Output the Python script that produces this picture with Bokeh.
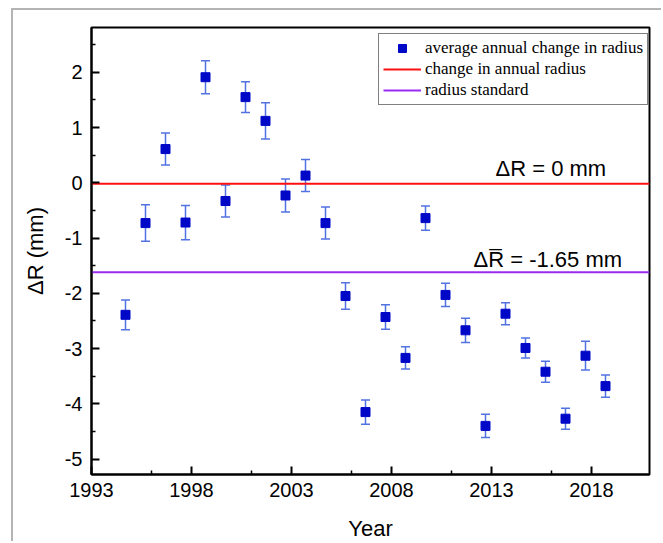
from bokeh.plotting import figure
from bokeh.models import ColumnDataSource, Whisker, TeeHead, FixedTicker, Label, Range1d, Legend, LegendItem
from bokeh.embed import file_html
from bokeh.resources import INLINE

# ---- data ----
years = [1994.7, 1995.7, 1996.7, 1997.7, 1998.7, 1999.7, 2000.7, 2001.7, 2002.7,
         2003.7, 2004.7, 2005.7, 2006.7, 2007.7, 2008.7, 2009.7, 2010.7, 2011.7,
         2012.7, 2013.7, 2014.7, 2015.7, 2016.7, 2017.7, 2018.7]
delta_r = [-2.39, -0.73, 0.61, -0.72, 1.91, -0.33, 1.55, 1.12, -0.23, 0.13, -0.73,
           -2.05, -4.15, -2.43, -3.17, -0.64, -2.03, -2.67, -4.40, -2.37, -2.99,
           -3.42, -4.27, -3.13, -3.68]
errors = [0.27, 0.33, 0.29, 0.31, 0.30, 0.29, 0.28, 0.33, 0.30, 0.29, 0.29, 0.24,
          0.22, 0.22, 0.20, 0.22, 0.21, 0.22, 0.21, 0.20, 0.18, 0.19, 0.19, 0.26, 0.20]
zero_line = -0.02
mean_line = -1.62
x_ticks = [1993, 1998, 2003, 2008, 2013, 2018]
x_minor = [1996, 2001, 2006, 2011, 2016]
y_ticks = [-5, -4, -3, -2, -1, 0, 1, 2]
y_tick_labels = ["-5", "-4", "-3", "-2", "-1", "0", "1", "2"]
y_minor = [-4.5, -3.5, -2.5, -1.5, -0.5, 0.5, 1.5, 2.5]
x_lo, x_hi = 1993, 2020.9
y_lo, y_hi = -5.28, 2.81

src = ColumnDataSource(dict(
    x=years, y=delta_r,
    upper=[v + e for v, e in zip(delta_r, errors)],
    lower=[v - e for v, e in zip(delta_r, errors)],
))

p = figure(width=650, height=533, x_range=Range1d(x_lo, x_hi), y_range=Range1d(y_lo, y_hi),
           output_backend="svg", toolbar_location=None,
           min_border_left=78, min_border_right=14, min_border_top=17, min_border_bottom=66)
p.margin = (8, 0, 0, 11)
p.styles = {"border-left": "2px solid #b4b4b4", "border-top": "2px solid #b4b4b4"}
p.background_fill_color = "white"
p.border_fill_color = "white"
p.outline_line_color = "black"
p.outline_line_width = 2
p.xgrid.visible = False
p.ygrid.visible = False

err_color = "#5272e2"
wh = Whisker(base="x", upper="upper", lower="lower", source=src,
             line_color=err_color, line_width=1.5,
             upper_head=TeeHead(size=9, line_color=err_color, line_width=1.5),
             lower_head=TeeHead(size=9, line_color=err_color, line_width=1.5))
p.add_layout(wh)

r_zero = p.line([x_lo, x_hi], [zero_line, zero_line], line_color="#ff1010", line_width=2)
r_mean = p.line([x_lo, x_hi], [mean_line, mean_line], line_color="#9a2cf0", line_width=2)
r_pts = p.scatter("x", "y", source=src, marker="square", size=9,
                  fill_color="#0008c8", line_color="#0008c8")

legend = Legend(items=[
    LegendItem(label="average annual change in radius", renderers=[r_pts]),
    LegendItem(label="change in annual radius", renderers=[r_zero]),
    LegendItem(label="radius standard", renderers=[r_mean]),
], location=(287, 369))
legend.label_text_font = "Liberation Serif"
legend.label_text_font_size = "17px"
legend.label_text_color = "black"
legend.label_height = 20
legend.glyph_height = 20
legend.glyph_width = 38
legend.spacing = 1
legend.padding = 4
legend.margin = 0
legend.label_standoff = 4
legend.border_line_color = "black"
legend.border_line_width = 1
legend.background_fill_color = "white"
legend.background_fill_alpha = 1
p.add_layout(legend, "center")

for ax in (p.xaxis[0], p.yaxis[0]):
    ax.axis_line_width = 2
    ax.axis_line_color = "black"
    ax.major_tick_in = 8
    ax.major_tick_out = 0
    ax.minor_tick_in = 4
    ax.minor_tick_out = 0
    ax.major_tick_line_width = 2
    ax.minor_tick_line_width = 1.5
    ax.major_tick_line_color = "black"
    ax.minor_tick_line_color = "black"
    ax.major_label_text_font = "Liberation Sans"
    ax.major_label_text_font_size = "20px"
    ax.major_label_text_color = "black"
    ax.axis_label_text_font = "Liberation Sans"
    ax.axis_label_text_font_size = "22px"
    ax.axis_label_text_font_style = "normal"
    ax.axis_label_text_color = "black"

p.xaxis[0].ticker = FixedTicker(ticks=x_ticks, minor_ticks=x_minor)
p.xaxis[0].major_label_overrides = {t: str(t) for t in x_ticks}
p.xaxis[0].major_label_standoff = 8
p.xaxis[0].axis_label = "Year"
p.xaxis[0].axis_label_standoff = 16

p.yaxis[0].ticker = FixedTicker(ticks=y_ticks, minor_ticks=y_minor)
p.yaxis[0].major_label_overrides = dict(zip(y_ticks, y_tick_labels))
p.yaxis[0].major_label_standoff = 9
p.yaxis[0].axis_label = "\u0394R (mm)"
p.yaxis[0].axis_label_standoff = 14

p.add_layout(Label(x=2013.2, y=0.26, text="\u0394R = 0 mm", text_font="Liberation Sans",
                   text_font_size="22px", text_color="black", text_baseline="alphabetic"))
p.add_layout(Label(x=2012.1, y=-1.38, text="\u0394R\u0305 = -1.65 mm", text_font="Liberation Sans",
                   text_font_size="22px", text_color="black", text_baseline="alphabetic"))

open("out.html", "w").write(file_html(p, INLINE))
